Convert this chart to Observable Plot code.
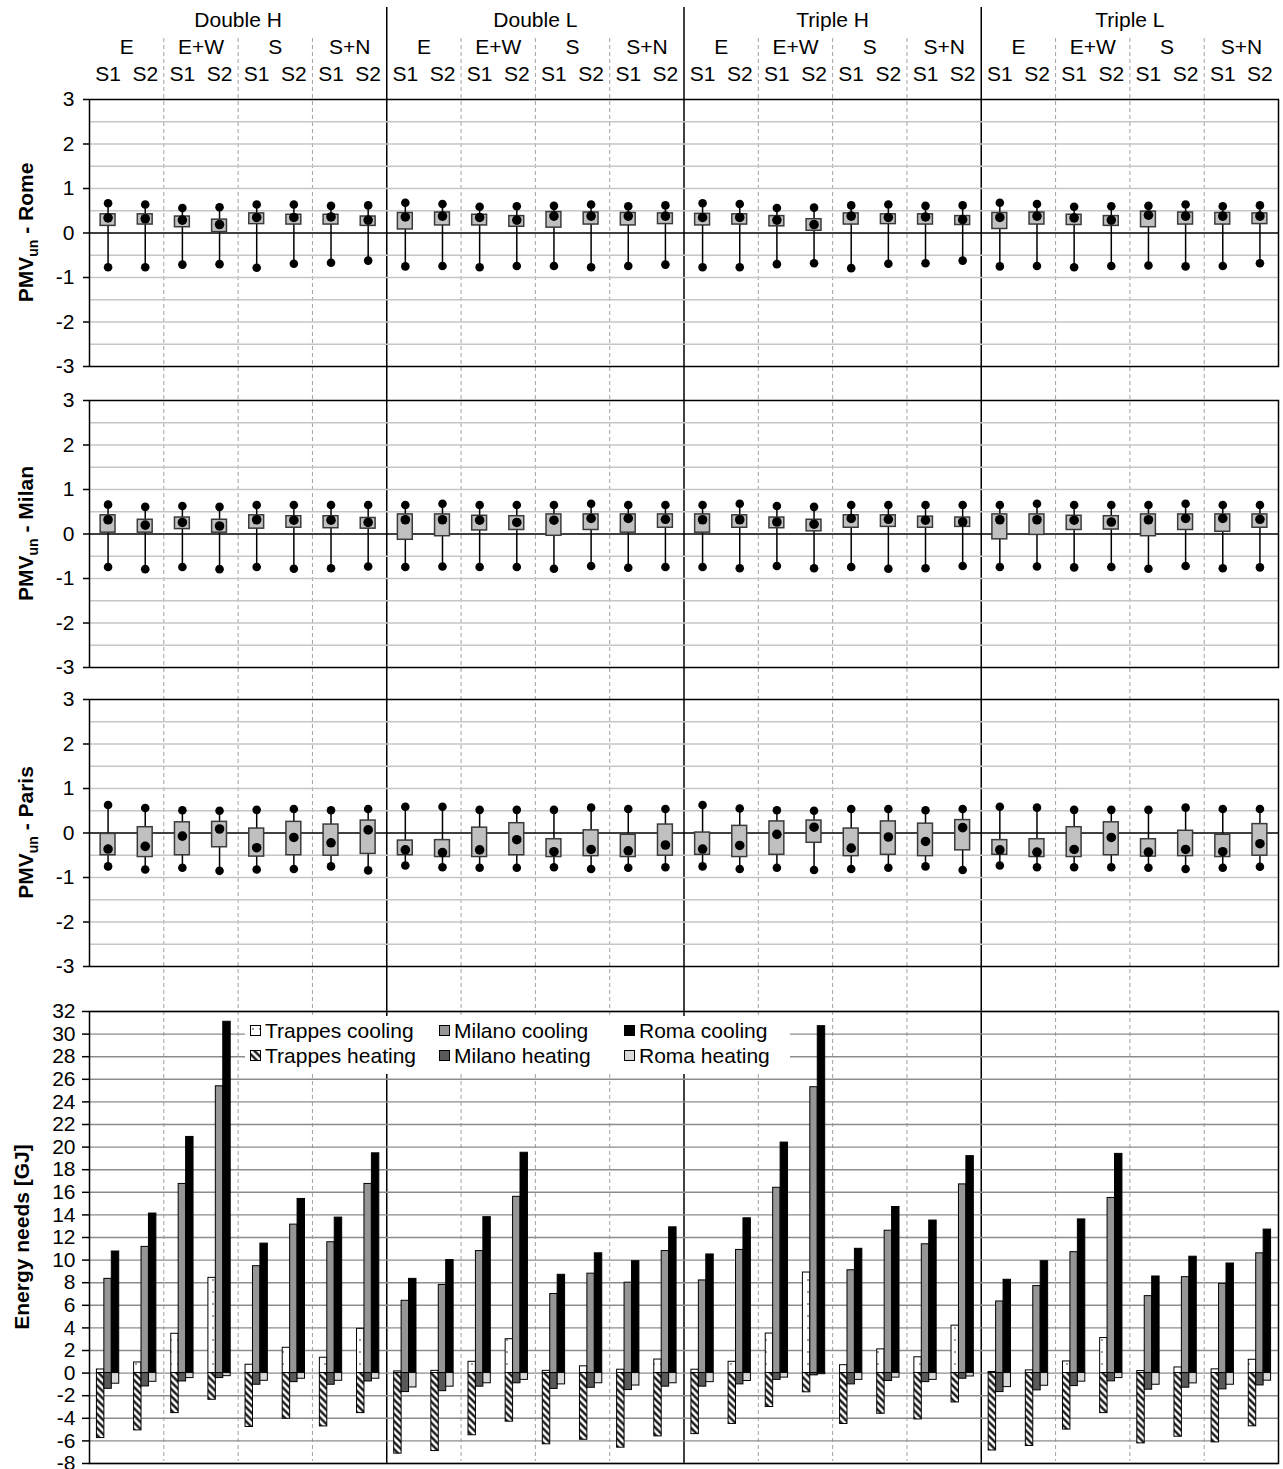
<!DOCTYPE html>
<html><head><meta charset="utf-8">
<script src="https://cdn.jsdelivr.net/npm/d3@7"></script>
<script src="https://cdn.jsdelivr.net/npm/@observablehq/plot@0.6"></script>
<style>
body{margin:0;background:#fff;}
#root{position:relative;width:1283px;height:1469px;overflow:hidden;font-family:"Liberation Sans",Arial,sans-serif;}
.layer{position:absolute;left:0;top:0;}
#stack svg{display:block;overflow:visible;}
#legend{position:absolute;left:245px;top:1016px;width:545px;height:58px;background:#fff;font-size:21px;color:#000;}
#legend .item{position:absolute;height:24px;line-height:24px;white-space:nowrap;}
#legend svg{position:absolute;left:0;top:6px;}
#legend span{position:absolute;left:15px;top:0;}
</style></head><body>
<svg width="0" height="0" style="position:absolute"><defs>
<pattern id="dotsPat" width="7" height="12" patternUnits="userSpaceOnUse">
<rect width="7" height="12" fill="white"/><circle cx="3" cy="4" r="0.8" fill="#222"/>
</pattern>
<pattern id="hatchPat" width="5" height="5" patternUnits="userSpaceOnUse" patternTransform="rotate(-45)">
<rect width="5" height="5" fill="white"/><line x1="2.5" y1="0" x2="2.5" y2="5" stroke="black" stroke-width="2.2"/>
</pattern>
</defs></svg>
<div id="root">
<div id="sepSolid" class="layer"></div>
<div id="sepDash" class="layer"></div>
<div id="stack" class="layer"></div>
<div id="legend"></div>
</div>
<script>
// ---------- categories ----------
const groups = ["Double H","Double L","Triple H","Triple L"];
const orientations = ["E","E+W","S","S+N"];
const scenarios = ["S1","S2"];

// ---------- PMV (min, q1, median, q3, max) ----------
const romeMin = [-0.77,-0.77,-0.71,-0.70,-0.78,-0.69,-0.67,-0.62, -0.75,-0.74,-0.77,-0.74,-0.74,-0.77,-0.74,-0.71, -0.77,-0.77,-0.70,-0.68,-0.79,-0.69,-0.68,-0.62, -0.75,-0.74,-0.77,-0.74,-0.73,-0.75,-0.74,-0.68];
const romeQ1  = [0.16,0.19,0.13,0.02,0.20,0.19,0.19,0.16, 0.08,0.17,0.17,0.14,0.12,0.19,0.17,0.20, 0.17,0.19,0.15,0.05,0.19,0.20,0.19,0.18, 0.09,0.19,0.18,0.16,0.13,0.19,0.19,0.20];
const romeMed = [0.34,0.32,0.29,0.19,0.35,0.35,0.36,0.29, 0.36,0.38,0.35,0.29,0.38,0.38,0.38,0.38, 0.35,0.35,0.29,0.19,0.38,0.35,0.36,0.30, 0.35,0.38,0.34,0.29,0.40,0.38,0.38,0.38];
const romeQ3  = [0.42,0.42,0.37,0.30,0.44,0.41,0.41,0.37, 0.45,0.46,0.41,0.38,0.47,0.46,0.45,0.44, 0.43,0.42,0.38,0.31,0.44,0.42,0.42,0.38, 0.45,0.46,0.41,0.38,0.48,0.46,0.45,0.44];
const romeMax = [0.67,0.64,0.56,0.58,0.64,0.64,0.61,0.62, 0.68,0.65,0.59,0.60,0.61,0.64,0.60,0.62, 0.67,0.65,0.56,0.57,0.62,0.64,0.61,0.62, 0.68,0.65,0.59,0.60,0.61,0.64,0.60,0.62];

const milanMin = [-0.74,-0.79,-0.74,-0.79,-0.74,-0.78,-0.77,-0.73, -0.74,-0.73,-0.74,-0.74,-0.78,-0.72,-0.76,-0.74, -0.74,-0.77,-0.72,-0.77,-0.74,-0.78,-0.77,-0.72, -0.74,-0.73,-0.75,-0.74,-0.78,-0.72,-0.77,-0.75];
const milanQ1  = [0.03,0.03,0.11,0.03,0.12,0.14,0.13,0.12, -0.13,-0.05,0.08,0.09,-0.04,0.09,0.03,0.14, 0.03,0.14,0.13,0.06,0.14,0.16,0.14,0.16, -0.12,-0.02,0.09,0.10,-0.05,0.09,0.05,0.14];
const milanMed = [0.32,0.20,0.26,0.18,0.32,0.31,0.31,0.26, 0.32,0.32,0.31,0.26,0.31,0.35,0.35,0.33, 0.32,0.32,0.27,0.22,0.35,0.33,0.31,0.27, 0.32,0.32,0.31,0.27,0.32,0.35,0.35,0.33];
const milanQ3  = [0.42,0.32,0.37,0.32,0.42,0.40,0.40,0.36, 0.44,0.44,0.41,0.40,0.44,0.44,0.44,0.44, 0.44,0.42,0.37,0.32,0.42,0.42,0.39,0.37, 0.44,0.44,0.41,0.40,0.44,0.44,0.44,0.44];
const milanMax = [0.66,0.61,0.63,0.61,0.65,0.65,0.65,0.65, 0.65,0.68,0.65,0.65,0.65,0.68,0.65,0.65, 0.65,0.68,0.63,0.61,0.65,0.65,0.65,0.65, 0.65,0.68,0.65,0.65,0.65,0.68,0.65,0.65];

const parisMin = [-0.75,-0.82,-0.78,-0.85,-0.82,-0.81,-0.75,-0.84, -0.73,-0.77,-0.78,-0.78,-0.77,-0.81,-0.78,-0.77, -0.75,-0.81,-0.78,-0.83,-0.81,-0.78,-0.75,-0.83, -0.73,-0.77,-0.77,-0.77,-0.78,-0.81,-0.78,-0.76];
const parisQ1  = [-0.50,-0.54,-0.50,-0.32,-0.53,-0.50,-0.51,-0.47, -0.50,-0.54,-0.54,-0.50,-0.54,-0.52,-0.54,-0.51, -0.49,-0.54,-0.49,-0.22,-0.52,-0.49,-0.52,-0.39, -0.49,-0.54,-0.54,-0.50,-0.53,-0.52,-0.54,-0.51];
const parisMed = [-0.36,-0.30,-0.07,0.09,-0.33,-0.10,-0.22,0.07, -0.38,-0.44,-0.38,-0.15,-0.42,-0.37,-0.40,-0.27, -0.36,-0.28,-0.03,0.13,-0.34,-0.09,-0.19,0.12, -0.38,-0.43,-0.37,-0.10,-0.43,-0.37,-0.42,-0.24];
const parisQ3  = [-0.02,0.13,0.24,0.25,0.10,0.25,0.19,0.28, -0.17,-0.16,0.12,0.22,-0.14,0.06,-0.04,0.19, 0.01,0.16,0.26,0.28,0.10,0.26,0.21,0.29, -0.16,-0.14,0.13,0.24,-0.14,0.05,-0.04,0.20];
const parisMax = [0.63,0.56,0.51,0.50,0.52,0.54,0.51,0.54, 0.59,0.59,0.52,0.52,0.52,0.57,0.54,0.54, 0.63,0.55,0.51,0.50,0.54,0.54,0.51,0.54, 0.59,0.57,0.52,0.52,0.52,0.57,0.54,0.54];

// ---------- Energy needs [GJ] ----------
const trappesCooling = [0.32,0.94,3.48,8.43,0.74,2.24,1.36,3.92, 0.15,0.20,1.00,3.00,0.20,0.60,0.30,1.20, 0.30,1.00,3.50,8.90,0.70,2.10,1.40,4.20, 0.10,0.24,1.03,3.10,0.18,0.50,0.33,1.18];
const milanoCooling  = [8.34,11.17,16.74,25.38,9.46,13.14,11.58,16.74, 6.40,7.80,10.80,15.60,7.00,8.80,8.00,10.80, 8.20,10.90,16.40,25.30,9.10,12.60,11.40,16.70, 6.34,7.70,10.70,15.50,6.81,8.49,7.90,10.60];
const romaCooling    = [10.76,14.12,20.90,31.09,11.46,15.41,13.76,19.45, 8.34,10.00,13.80,19.50,8.70,10.60,9.90,12.90, 10.50,13.70,20.40,30.70,11.00,14.70,13.50,19.20, 8.26,9.90,13.60,19.40,8.55,10.30,9.70,12.70];
const trappesHeating = [-5.75,-5.07,-3.54,-2.36,-4.77,-4.04,-4.72,-3.54, -7.13,-6.90,-5.50,-4.30,-6.30,-5.90,-6.60,-5.60, -5.40,-4.50,-3.00,-1.70,-4.50,-3.60,-4.10,-2.60, -6.85,-6.45,-5.00,-3.54,-6.22,-5.63,-6.13,-4.71];
const milanoHeating  = [-1.39,-1.18,-0.74,-0.44,-1.03,-0.80,-1.03,-0.74, -1.68,-1.60,-1.20,-0.90,-1.40,-1.30,-1.50,-1.20, -1.20,-1.00,-0.60,-0.20,-1.00,-0.70,-0.80,-0.50, -1.68,-1.53,-1.15,-0.73,-1.47,-1.29,-1.44,-1.09];
const romaHeating    = [-0.94,-0.77,-0.44,-0.27,-0.68,-0.50,-0.68,-0.50, -1.27,-1.20,-0.90,-0.60,-1.00,-0.90,-1.10,-0.90, -0.80,-0.70,-0.40,-0.10,-0.60,-0.40,-0.60,-0.30, -1.24,-1.12,-0.76,-0.44,-1.03,-0.91,-1.03,-0.67];

// ---------- ticks ----------
const pmvTicks = [-3,-2,-1,0,1,2,3];
const pmvGrid = [-2.5,-2,-1.5,-1,-0.5,0.5,1,1.5,2,2.5];
const energyTicks = [-8,-6,-4,-2,0,2,4,6,8,10,12,14,16,18,20,22,24,26,28,30,32];
const groupSeparators = [8,16,24];
const subSeparators = [2,4,6,10,12,14,18,20,22,26,28,30];

// ---------- layout ----------
const W = 1283, ML = 89, MR = 5;
const FONT = '"Liberation Sans", Arial, sans-serif';
const FS = 21;
const nCat = groups.length * orientations.length * scenarios.length;
const xOpt = {domain: [0, nCat], axis: null};
const baseStyle = {fontFamily: FONT, fontSize: FS + "px", background: "transparent", color: "black", overflow: "visible"};

const categories = [];
groups.forEach(g => orientations.forEach(o => scenarios.forEach(s => categories.push({g, o, s, i: categories.length}))));

const stack = document.getElementById("stack");

// separators (behind everything)
document.getElementById("sepSolid").append(Plot.plot({
  width: W, height: 1463, marginTop: 7, marginBottom: 0, marginLeft: ML, marginRight: MR,
  x: xOpt, style: baseStyle,
  marks: [Plot.ruleX(groupSeparators, {stroke: "black", strokeWidth: 1.5})]
}));
document.getElementById("sepDash").append(Plot.plot({
  width: W, height: 1469, marginTop: 38, marginBottom: 8, marginLeft: ML, marginRight: MR,
  x: xOpt, style: baseStyle,
  marks: [Plot.ruleX(subSeparators, {stroke: "#a0a0a0", strokeWidth: 1, strokeDasharray: "4,3"})]
}));

// header
const headerRows = ["group", "orient", "scen"];
const headerText = [
  ...groups.map((g, gi) => ({row: "group", x: gi*8 + 4, t: g})),
  ...groups.flatMap((g, gi) => orientations.map((o, oi) => ({row: "orient", x: gi*8 + oi*2 + 1, t: o}))),
  ...categories.map(c => ({row: "scen", x: c.i + 0.5, t: c.s}))
];
stack.append(Plot.plot({
  width: W, height: 90, marginTop: 19, marginBottom: 16, marginLeft: ML, marginRight: MR,
  x: xOpt, y: {type: "point", domain: headerRows, padding: 0, axis: null}, style: baseStyle,
  marks: [Plot.text(headerText, {x: "x", y: "row", text: "t", fontSize: FS, fill: "black"})]
}));

function addYLabel(svg, parts, bx, cy) {
  const t = d3.select(svg).append("text")
    .attr("transform", `translate(${bx},${cy}) rotate(-90)`)
    .attr("text-anchor", "middle")
    .attr("font-weight", "bold").attr("font-size", FS).attr("font-family", FONT).attr("fill", "black");
  parts.forEach(p => {
    const ts = t.append("tspan").text(p.text);
    if (p.sub) ts.attr("font-size", 14).attr("dy", 5);
    if (p.after) ts.attr("dy", -5);
  });
}

function pmvPanel(name, mn, q1, md, q3, mx, mt, mb) {
  const ph = 267;
  const data = categories.map((c, k) => ({x: c.i + 0.5, x1: c.i + 0.3, x2: c.i + 0.7, min: mn[k], q1: q1[k], med: md[k], q3: q3[k], max: mx[k]}));
  const svg = Plot.plot({
    width: W, height: mt + ph + mb, marginTop: mt, marginBottom: mb, marginLeft: ML, marginRight: MR,
    x: xOpt, y: {domain: [-3, 3], axis: null}, style: baseStyle,
    marks: [
      Plot.ruleY(pmvGrid, {stroke: "#c6c6c6", strokeWidth: 1.5}),
      Plot.ruleY([0], {stroke: "black", strokeWidth: 1.5}),
      Plot.ruleX(data, {x: "x", y1: "min", y2: "max", stroke: "black", strokeWidth: 1.5}),
      Plot.rect(data, {x1: "x1", x2: "x2", y1: "q1", y2: "q3", fill: "#c0c0c0", stroke: "#3a3a3a", strokeWidth: 1.5}),
      Plot.dot(data, {x: "x", y: "max", r: 4.3, fill: "black"}),
      Plot.dot(data, {x: "x", y: "min", r: 4.3, fill: "black"}),
      Plot.dot(data, {x: "x", y: "med", r: 4.8, fill: "black"}),
      Plot.frame({stroke: "black", strokeWidth: 1.5}),
      Plot.axisY(pmvTicks, {tickSize: 6, tickPadding: 9, fontSize: FS, tickFormat: d => String(d), strokeWidth: 1.5, label: null})
    ]
  });
  addYLabel(svg, [{text: "PMV"}, {text: "un", sub: true}, {text: " - " + name, after: true}], 33, mt + ph/2);
  stack.append(svg);
}

pmvPanel("Rome", romeMin, romeQ1, romeMed, romeQ3, romeMax, 9, 17);
pmvPanel("Milan", milanMin, milanQ1, milanMed, milanQ3, milanMax, 17, 16);
pmvPanel("Paris", parisMin, parisQ1, parisMed, parisQ3, parisMax, 16, 22);

// energy
const energySeries = [
  {name: "Trappes cooling", values: trappesCooling, slot: 0, fill: "url(#dotsPat)"},
  {name: "Milano cooling",  values: milanoCooling,  slot: 1, fill: "#969696"},
  {name: "Roma cooling",    values: romaCooling,    slot: 2, fill: "#000000"},
  {name: "Trappes heating", values: trappesHeating, slot: 0, fill: "url(#hatchPat)"},
  {name: "Milano heating",  values: milanoHeating,  slot: 1, fill: "#595959"},
  {name: "Roma heating",    values: romaHeating,    slot: 2, fill: "#d9d9d9"}
];
const eTop = 23, eH = 452, eBot = 6;
const energySvg = Plot.plot({
  width: W, height: eTop + eH + eBot, marginTop: eTop, marginBottom: eBot, marginLeft: ML, marginRight: MR,
  x: xOpt, y: {domain: [-8, 32], axis: null}, style: baseStyle,
  marks: [
    Plot.ruleY(energyTicks, {stroke: "#8c8c8c", strokeWidth: 1.4}),
    ...energySeries.map(s => Plot.rect(
      s.values.map((v, k) => ({x1: k + 0.2 + s.slot*0.2, x2: k + 0.4 + s.slot*0.2, v})),
      {x1: "x1", x2: "x2", y1: 0, y2: "v", fill: s.fill, stroke: "black", strokeWidth: 1}
    )),
    Plot.frame({stroke: "black", strokeWidth: 1.5}),
    Plot.axisY(energyTicks, {tickSize: 7, tickPadding: 7, fontSize: FS, tickFormat: d => String(d), strokeWidth: 1.5, label: null})
  ]
});
addYLabel(energySvg, [{text: "Energy needs [GJ]"}], 28.5, eTop + eH/2);
stack.append(energySvg);

// legend
const legendCols = [5, 194, 379];
const legendRows = [15, 40];
const legend = document.getElementById("legend");
energySeries.forEach((s, k) => {
  const col = s.slot, row = k < 3 ? 0 : 1;
  const item = document.createElement("div");
  item.className = "item";
  item.style.left = legendCols[col] + "px";
  item.style.top = (legendRows[row] - 12) + "px";
  item.innerHTML = `<svg width="12" height="12"><rect x="0.5" y="0.5" width="10" height="10" fill="${s.fill}" stroke="black" stroke-width="1"/></svg><span>${s.name}</span>`;
  legend.append(item);
});
</script>
</body></html>
